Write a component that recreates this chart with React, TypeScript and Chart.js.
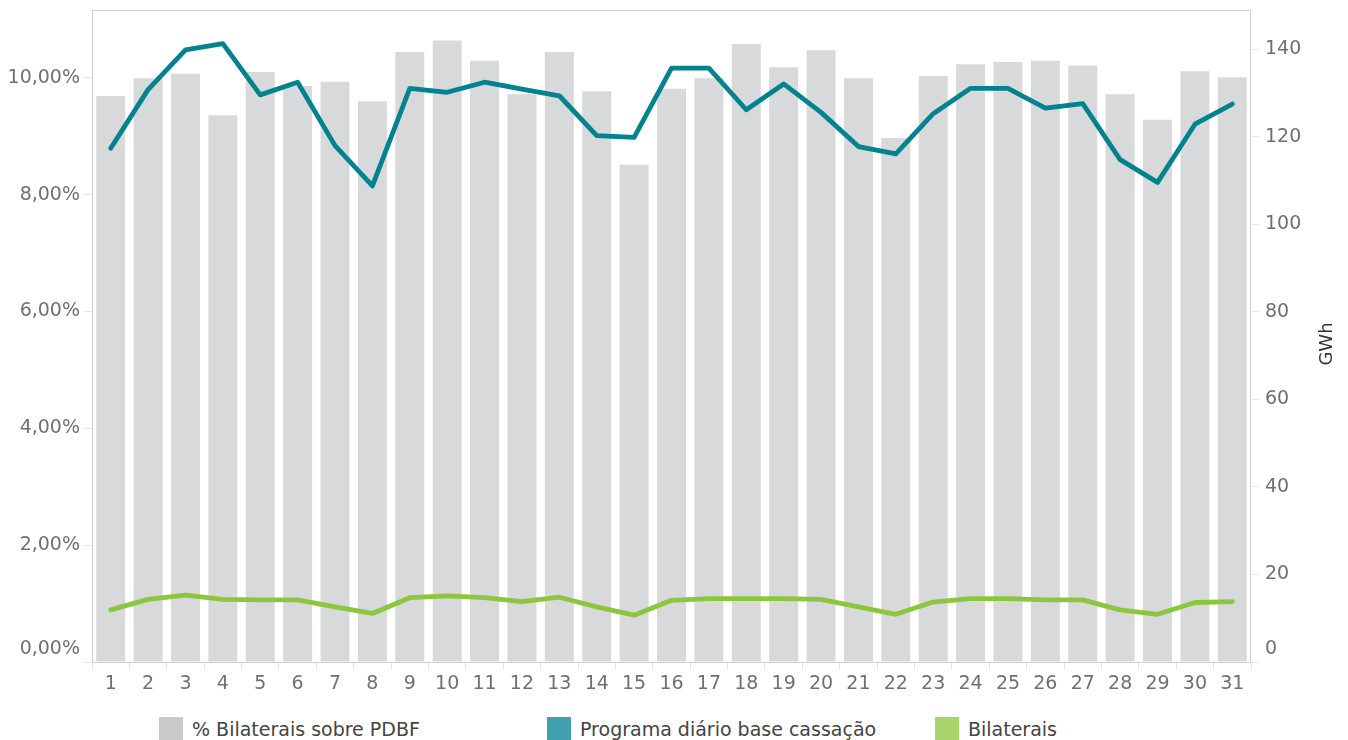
import React, { useEffect, useRef } from "react";
import { Chart, registerables } from "chart.js";

Chart.register(...registerables);

const days = ["1", "2", "3", "4", "5", "6", "7", "8", "9", "10", "11", "12", "13", "14", "15", "16", "17", "18", "19", "20", "21", "22", "23", "24", "25", "26", "27", "28", "29", "30", "31"];

const pctBilaterais = [9.69, 9.99, 10.07, 9.36, 10.1, 9.86, 9.93, 9.6, 10.44, 10.64, 10.29, 9.72, 10.44, 9.77, 8.51, 9.81, 9.99, 10.58, 10.18, 10.47, 9.99, 8.97, 10.03, 10.23, 10.27, 10.29, 10.21, 9.72, 9.28, 10.11, 10.01];

const programaDiario = [117.4, 130.8, 139.9, 141.3, 129.6, 132.5, 118.0, 108.8, 131.1, 130.2, 132.5, 130.9, 129.4, 120.3, 119.9, 135.7, 135.7, 126.2, 132.1, 125.6, 117.8, 116.1, 125.3, 131.1, 131.1, 126.6, 127.6, 114.8, 109.6, 122.9, 127.5];

const bilaterais = [11.9, 14.3, 15.3, 14.3, 14.2, 14.2, 12.6, 11.1, 14.7, 15.1, 14.7, 13.8, 14.8, 12.6, 10.7, 14.1, 14.5, 14.5, 14.5, 14.3, 12.6, 10.9, 13.7, 14.5, 14.5, 14.2, 14.2, 11.9, 10.9, 13.6, 13.8];

const leftTicks = [0, 2, 4, 6, 8, 10];
const rightTicks = [0, 20, 40, 60, 80, 100, 120, 140];

const legendItems = [
  { label: "% Bilaterais sobre PDBF", color: "#c9c9c9", x: 159 },
  { label: "Programa diário base cassação", color: "#40a1ac", x: 547 },
  { label: "Bilaterais", color: "#a9d46d", x: 935 },
];

const FONT = "'DejaVu Sans', sans-serif";
const TICK_COLOR = "#707070";

const framePlugin = {
  id: "frame",
  afterDraw(chart: any) {
    const { ctx, chartArea } = chart;
    ctx.save();
    ctx.strokeStyle = "#cfcfcf";
    ctx.lineWidth = 1;
    ctx.strokeRect(
      Math.round(chartArea.left) + 0.5,
      Math.round(chartArea.top) + 0.5,
      Math.round(chartArea.right - chartArea.left) - 1,
      Math.round(chartArea.bottom - chartArea.top)
    );
    ctx.translate(1327, 344);
    ctx.rotate(-Math.PI / 2);
    ctx.fillStyle = "#333333";
    ctx.font = "18px " + FONT;
    ctx.textAlign = "center";
    ctx.textBaseline = "middle";
    ctx.fillText("GWh", 0, 0);
    ctx.restore();
  },
};

function App() {
  const canvasRef = useRef<HTMLCanvasElement | null>(null);

  useEffect(() => {
    if (!canvasRef.current) return;
    const chart = new Chart(canvasRef.current, {
      type: "bar",
      data: {
        labels: days,
        datasets: [
          {
            type: "line",
            label: "Programa diário base cassação",
            data: programaDiario,
            yAxisID: "y1",
            borderColor: "#00838f",
            borderWidth: 4.8,
            pointRadius: 0,
            tension: 0,
            borderCapStyle: "round",
            borderJoinStyle: "round",
            order: 1,
          } as any,
          {
            type: "line",
            label: "Bilaterais",
            data: bilaterais,
            yAxisID: "y1",
            borderColor: "#8cc63e",
            borderWidth: 4.8,
            pointRadius: 0,
            tension: 0,
            borderCapStyle: "round",
            borderJoinStyle: "round",
            order: 2,
          } as any,
          {
            type: "bar",
            label: "% Bilaterais sobre PDBF",
            data: pctBilaterais,
            yAxisID: "y",
            backgroundColor: "#d8d9db",
            categoryPercentage: 1,
            barPercentage: 0.775,
            order: 3,
          } as any,
        ],
      },
      options: {
        animation: false,
        responsive: true,
        maintainAspectRatio: false,
        events: [],
        layout: { padding: { top: 10, left: 0, right: 0, bottom: 0 } },
        plugins: {
          legend: { display: false },
          tooltip: { enabled: false },
        },
        scales: {
          x: {
            type: "category",
            offset: true,
            grid: {
              offset: true,
              drawOnChartArea: false,
              drawTicks: true,
              tickLength: 8,
              color: "#e3e3e3",
            },
            border: { display: false },
            ticks: {
              color: TICK_COLOR,
              font: { family: FONT, size: 19, lineHeight: 1.2 },
              padding: 3,
              maxRotation: 0,
              autoSkip: false,
            },
            afterFit(scale: any) {
              scale.height = 43;
              scale.paddingLeft = 0;
              scale.paddingRight = 0;
            },
          },
          y: {
            type: "linear",
            position: "left",
            min: 0,
            max: 11.16,
            afterBuildTicks(scale: any) {
              scale.ticks = leftTicks.map((v) => ({ value: v }));
            },
            grid: {
              drawOnChartArea: false,
              drawTicks: true,
              tickLength: 8,
              color: "#e6e6e6",
            },
            border: { display: false },
            ticks: {
              color: TICK_COLOR,
              font: { family: FONT, size: 19, lineHeight: "26px" },
              padding: 4,
              callback: (v: any) => {
                const s = Number(v).toFixed(2).replace(".", ",") + "%";
                return Number(v) === 0 ? [s, ""] : s;
              },
            },
            afterFit(scale: any) {
              scale.width = 92;
              scale.paddingTop = 0;
              scale.paddingBottom = 0;
            },
          },
          y1: {
            type: "linear",
            position: "right",
            min: 0,
            max: 149,
            afterBuildTicks(scale: any) {
              scale.ticks = rightTicks.map((v) => ({ value: v }));
            },
            grid: {
              drawOnChartArea: false,
              drawTicks: true,
              tickLength: 8,
              color: "#e6e6e6",
            },
            border: { display: false },
            ticks: {
              color: TICK_COLOR,
              font: { family: FONT, size: 19, lineHeight: "26px" },
              padding: 6,
              callback: (v: any) => (Number(v) === 0 ? ["0", ""] : String(v)),
            },
            afterFit(scale: any) {
              scale.width = 97;
              scale.paddingTop = 0;
              scale.paddingBottom = 0;
            },
          },
        },
      } as any,
      plugins: [framePlugin],
    });
    return () => chart.destroy();
  }, []);

  return (
    <div style={{ position: "fixed", left: 0, top: 0, width: 1348, height: 740, background: "#fff", overflow: "hidden" }}>
      <div style={{ position: "absolute", left: 0, top: 0, width: 1348, height: 705 }}>
        <canvas ref={canvasRef} />
      </div>
      {legendItems.map((it) => (
        <div
          key={it.label}
          style={{
            position: "absolute",
            left: it.x,
            top: 717,
            height: 24,
            display: "flex",
            alignItems: "center",
            fontFamily: FONT,
            fontSize: 19,
            color: "#444",
            whiteSpace: "nowrap",
          }}
        >
          <span style={{ display: "inline-block", width: 24, height: 24, background: it.color, marginRight: 9 }} />
          <span>{it.label}</span>
        </div>
      ))}
    </div>
  );
}

export default App;
